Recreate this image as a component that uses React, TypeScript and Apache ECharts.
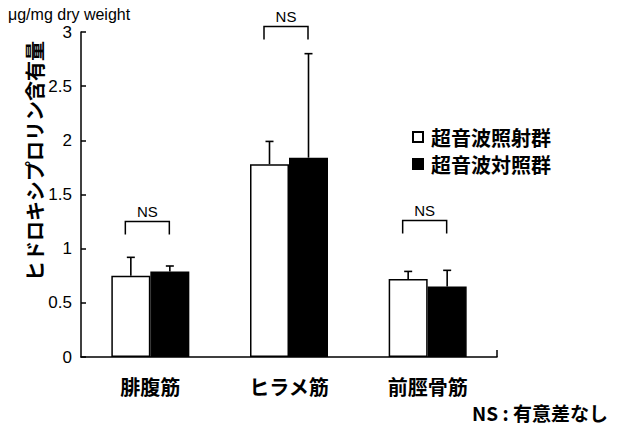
import React, { useEffect, useRef } from "react";
import * as echarts from "echarts";

const categories = ["腓腹筋", "ヒラメ筋", "前脛骨筋"];
const irradiatedName = "超音波照射群";
const controlName = "超音波対照群";
const irradiated = [0.75, 1.78, 0.72];
const irradiatedUpper = [0.92, 1.99, 0.79];
const control = [0.79, 1.84, 0.65];
const controlUpper = [0.84, 2.8, 0.8];
const nsLevels = [1.25, 3.05, 1.26];
const yTicks = [0, 0.5, 1, 1.5, 2, 2.5, 3];

const BAR_W = 39;
const JP = '"Noto Sans CJK JP", "Noto Sans", sans-serif';
const LAT = '"Liberation Sans", Arial, sans-serif';

export default function App() {
  const ref = useRef<HTMLDivElement>(null);
  useEffect(() => {
    if (!ref.current) return;
    const chart = echarts.init(ref.current, undefined, { renderer: "svg" });

    const errRender = (offset: number) => (params: any, api: any) => {
      const i = api.value(0);
      const top = api.coord([i, api.value(2)]);
      const base = api.coord([i, api.value(1)]);
      const x = top[0] + offset;
      const st = { stroke: "#000", lineWidth: 1.6 };
      return {
        type: "group",
        children: [
          { type: "line", shape: { x1: x, y1: base[1], x2: x, y2: top[1] }, style: st },
          { type: "line", shape: { x1: x - 4, y1: top[1], x2: x + 4, y2: top[1] }, style: st },
        ],
      };
    };

    chart.setOption({
      animation: false,
      backgroundColor: "#fff",
      title: {
        text: "μg/mg dry weight",
        left: 8,
        top: 6,
        padding: 0,
        textStyle: { fontFamily: LAT, fontSize: 16, lineHeight: 17, fontWeight: "normal", color: "#000" },
      },
      grid: { left: 81, right: 120, top: 32, bottom: 71 },
      legend: {
        orient: "vertical",
        left: 407,
        top: 122,
        itemWidth: 10,
        itemHeight: 10,
        itemGap: 7,
        icon: "rect",
        data: [irradiatedName, controlName],
        textStyle: {
          fontFamily: JP,
          fontSize: 20,
          lineHeight: 20,
          fontWeight: "bold",
          color: "#000",
          padding: [0, 0, 0, 3],
        },
      },
      xAxis: {
        type: "category",
        data: categories,
        axisLine: { lineStyle: { color: "#000", width: 1.5 } },
        axisTick: { show: false },
        axisLabel: { color: "#000", fontFamily: JP, fontSize: 20, fontWeight: "bold", margin: 19 },
      },
      yAxis: {
        type: "value",
        min: yTicks[0],
        max: yTicks[yTicks.length - 1],
        interval: 0.5,
        splitLine: { show: false },
        axisLine: { show: true, lineStyle: { color: "#000", width: 1.5 } },
        axisTick: { show: true, inside: true, length: 5, lineStyle: { color: "#000", width: 1.5 } },
        axisLabel: {
          color: "#000",
          fontFamily: LAT,
          fontSize: 17,
          lineHeight: 17,
          margin: 9,
        },
      },
      graphic: [
        {
          type: "text",
          x: 34,
          y: 161,
          rotation: Math.PI / 2,
          style: {
            text: "ヒドロキシプロリン含有量",
            fontFamily: JP,
            fontSize: 20,
            fontWeight: "bold",
            fill: "#000",
            align: "center",
            verticalAlign: "middle",
          },
        },
        {
          type: "text",
          x: 472,
          y: 412,
          style: {
            text: "NS : 有意差なし",
            fontFamily: JP,
            fontSize: 19,
            fontWeight: "bold",
            fill: "#000",
            align: "left",
            verticalAlign: "middle",
          },
        },
        {
          type: "line",
          shape: { x1: 497, y1: 350, x2: 497, y2: 357 },
          style: { stroke: "#000", lineWidth: 1.5 },
        },
      ],
      series: [
        {
          name: irradiatedName,
          type: "bar",
          data: irradiated,
          barWidth: BAR_W,
          barGap: "0%",
          itemStyle: { color: "#fff", borderColor: "#000", borderWidth: 1.5 },
        },
        {
          name: controlName,
          type: "bar",
          data: control,
          barWidth: BAR_W,
          barGap: "0%",
          itemStyle: { color: "#000", borderColor: "#000", borderWidth: 1.5 },
        },
        {
          type: "custom",
          renderItem: errRender(-BAR_W / 2),
          data: irradiated.map((v, i) => [i, v, irradiatedUpper[i]]),
          z: 5,
        },
        {
          type: "custom",
          renderItem: errRender(BAR_W / 2),
          data: control.map((v, i) => [i, v, controlUpper[i]]),
          z: 5,
        },
        {
          type: "custom",
          clip: false,
          renderItem: (params: any, api: any) => {
            const i = api.value(0);
            const top = api.coord([i, api.value(1)]);
            const cx = top[0] - 3;
            const y = top[1];
            const st = { stroke: "#000", lineWidth: 1.5, fill: "none" };
            return {
              type: "group",
              children: [
                {
                  type: "polyline",
                  shape: { points: [[cx - 22, y + 13], [cx - 22, y], [cx + 22, y], [cx + 22, y + 13]] },
                  style: st,
                },
                {
                  type: "text",
                  x: cx,
                  y: y - 10,
                  style: {
                    text: "NS",
                    fontFamily: LAT,
                    fontSize: 15,
                    fill: "#000",
                    align: "center",
                    verticalAlign: "middle",
                  },
                },
              ],
            };
          },
          data: nsLevels.map((v, i) => [i, v]),
        },
      ],
    });
    return () => chart.dispose();
  }, []);
  return (
    <div
      ref={ref}
      style={{ position: "fixed", left: 0, top: 0, width: 617, height: 428, background: "#fff" }}
    />
  );
}
